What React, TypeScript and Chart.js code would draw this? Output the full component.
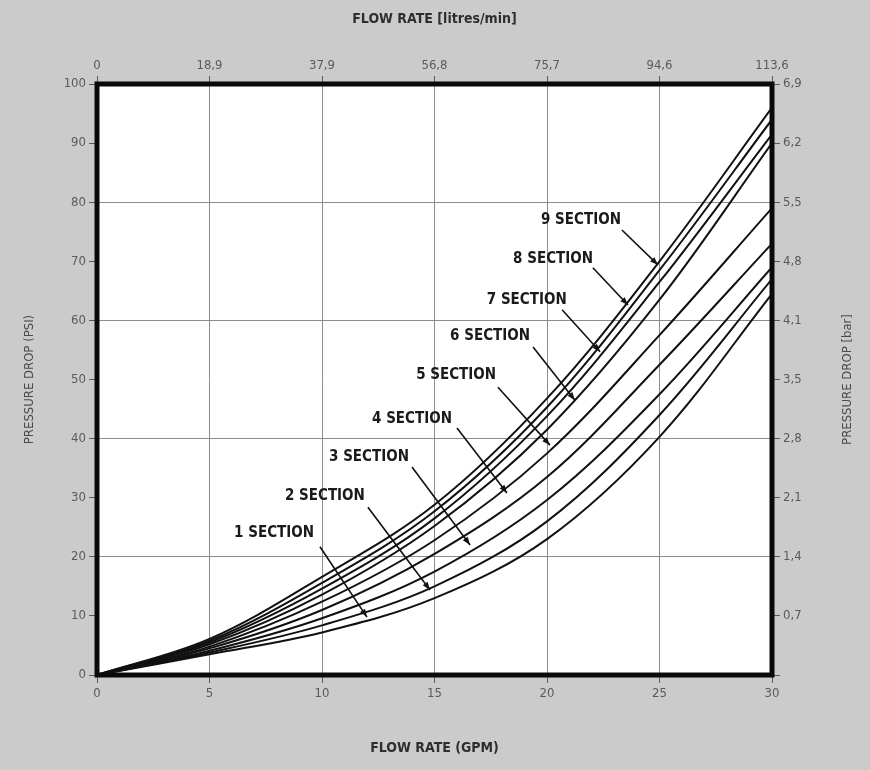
import React, { useEffect, useRef } from "react";
import { Chart, registerables } from "chart.js";

Chart.register(...registerables);

// Flow rate (GPM) sample points
const gpm = [0, 5, 10, 15, 20, 25, 30];

// Pressure drop (PSI) for each valve section count
const sec1 = [0, 3.5, 7.2, 13, 23, 40.3, 64.5];
const sec2 = [0, 3.8, 8.4, 15, 26, 44, 67];
const sec3 = [0, 4.1, 9.6, 17.5, 29.6, 47.5, 69];
const sec4 = [0, 4.5, 11, 20.5, 33.5, 52.5, 73];
const sec5 = [0, 4.8, 12.4, 22.8, 37.5, 57.5, 79];
const sec6 = [0, 5.2, 13.6, 25.2, 41.5, 63.5, 90];
const sec7 = [0, 5.5, 14.6, 26.5, 43.8, 66.5, 91.5];
const sec8 = [0, 5.8, 15.6, 27.7, 45.3, 68.5, 94];
const sec9 = [0, 6.1, 16.6, 28.8, 46.8, 70, 96];

const sectionSeries = [sec1, sec2, sec3, sec4, sec5, sec6, sec7, sec8, sec9];
const sectionNames = [
  "1 SECTION", "2 SECTION", "3 SECTION", "4 SECTION", "5 SECTION",
  "6 SECTION", "7 SECTION", "8 SECTION", "9 SECTION",
];

// Label anchors and leader lines, in data units (GPM, PSI)
const labelX = [7.87, 10.13, 12.09, 14.0, 15.96, 17.47, 19.1, 20.27, 21.51];
const labelY = [24.0, 30.3, 36.9, 43.3, 50.8, 57.4, 63.5, 70.4, 77.0];
const leaderStartX = [9.91, 12.04, 14.0, 16.0, 17.82, 19.38, 20.67, 22.04, 23.33];
const leaderStartY = [21.7, 28.4, 35.2, 41.8, 48.7, 55.5, 61.8, 68.9, 75.3];
const leaderEndX = [12.0, 14.8, 16.58, 18.22, 20.13, 21.24, 22.36, 23.6, 24.93];
const leaderEndY = [9.8, 14.4, 22.0, 30.8, 38.9, 46.5, 54.7, 62.6, 69.4];

// Secondary axis tick labels
const litresTickLabels = ["0", "18,9", "37,9", "56,8", "75,7", "94,6", "113,6"];
const barTickLabels = ["", "0,7", "1,4", "2,1", "2,8", "3,5", "4,1", "4,8", "5,5", "6,2", "6,9"];

const FONT = "'Liberation Sans Narrow', 'DejaVu Sans Condensed', 'Roboto', sans-serif";
const BG = "#cbcbcb";
const TICK_COLOR = "#5a5a5a";
const GRID_COLOR = "#8c8c8c";

const decorPlugin = {
  id: "decor",
  beforeDraw(chart: any) {
    const { ctx, chartArea: a, width, height } = chart;
    ctx.save();
    ctx.fillStyle = BG;
    ctx.fillRect(0, 0, width, height);
    ctx.fillStyle = "#ffffff";
    ctx.fillRect(a.left, a.top, a.right - a.left, a.bottom - a.top);
    ctx.restore();
  },
  afterDatasetsDraw(chart: any) {
    const { ctx, chartArea: a, width } = chart;
    const xs = chart.scales.x;
    const ys = chart.scales.y;
    ctx.save();
    ctx.strokeStyle = "#111";
    ctx.fillStyle = "#111";
    ctx.lineWidth = 1.6;
    for (let i = 0; i < sectionNames.length; i++) {
      const x0 = xs.getPixelForValue(leaderStartX[i]);
      const y0 = ys.getPixelForValue(leaderStartY[i]);
      const x1 = xs.getPixelForValue(leaderEndX[i]);
      const y1 = ys.getPixelForValue(leaderEndY[i]);
      ctx.beginPath();
      ctx.moveTo(x0, y0);
      ctx.lineTo(x1, y1);
      ctx.stroke();
      const ang = Math.atan2(y1 - y0, x1 - x0);
      const L = 8, W = 3;
      ctx.beginPath();
      ctx.moveTo(x1, y1);
      ctx.lineTo(x1 - L * Math.cos(ang) + W * Math.sin(ang), y1 - L * Math.sin(ang) - W * Math.cos(ang));
      ctx.lineTo(x1 - L * Math.cos(ang) - W * Math.sin(ang), y1 - L * Math.sin(ang) + W * Math.cos(ang));
      ctx.closePath();
      ctx.fill();
      ctx.font = `bold 15px ${FONT}`;
      ctx.fillStyle = "#1a1a1a";
      ctx.textAlign = "center";
      ctx.textBaseline = "middle";
      ctx.fillText(sectionNames[i], xs.getPixelForValue(labelX[i]), ys.getPixelForValue(labelY[i]));
      ctx.fillStyle = "#111";
    }
    ctx.strokeStyle = "#0a0a0a";
    ctx.lineWidth = 5;
    ctx.strokeRect(a.left, a.top, a.right - a.left, a.bottom - a.top);
    ctx.fillStyle = "#2e2e2e";
    ctx.textAlign = "center";
    ctx.textBaseline = "middle";
    ctx.font = `bold 14px ${FONT}`;
    ctx.fillText("FLOW RATE [litres/min]", (a.left + a.right) / 2, 19);
    ctx.fillText("FLOW RATE (GPM)", (a.left + a.right) / 2, 748);
    ctx.font = `13px ${FONT}`;
    ctx.fillStyle = "#4a4a4a";
    const midY = (a.top + a.bottom) / 2;
    ctx.save();
    ctx.translate(30, midY);
    ctx.rotate(-Math.PI / 2);
    ctx.fillText("PRESSURE DROP (PSI)", 0, 0);
    ctx.restore();
    ctx.save();
    ctx.translate(width - 22, midY);
    ctx.rotate(-Math.PI / 2);
    ctx.fillText("PRESSURE DROP [bar]", 0, 0);
    ctx.restore();
    ctx.restore();
  },
};

export default function App() {
  const ref = useRef<HTMLCanvasElement>(null);
  useEffect(() => {
    const tickFont = { family: FONT, size: 13 };
    const chart = new Chart(ref.current as HTMLCanvasElement, {
      type: "line",
      data: {
        datasets: sectionSeries.map((s, i) => ({
          label: sectionNames[i],
          data: gpm.map((x, j) => ({ x, y: s[j] })),
          borderColor: "#111",
          borderWidth: 2,
          pointRadius: 0,
          fill: false,
          tension: 0.35,
        })),
      },
      options: {
        animation: false,
        responsive: false,
        devicePixelRatio: 1,
        layout: { padding: 0 },
        plugins: { legend: { display: false }, tooltip: { enabled: false } },
        scales: {
          x: {
            type: "linear",
            position: "bottom",
            min: 0,
            max: 30,
            ticks: { stepSize: 5, color: TICK_COLOR, font: tickFont, padding: 3 },
            grid: {
              color: (c: any) => (c.tick && c.tick.value > 0 && c.tick.value < 30 ? GRID_COLOR : "transparent"),
              tickColor: TICK_COLOR,
              tickLength: 8,
              lineWidth: 1,
            },
            border: { display: false },
            afterFit: (s: any) => { s.height = 95; },
          },
          x2: {
            type: "linear",
            position: "top",
            min: 0,
            max: 30,
            ticks: {
              stepSize: 5,
              color: TICK_COLOR,
              font: tickFont,
              padding: 3,
              callback: (_v: any, i: number) => litresTickLabels[i],
            },
            grid: { drawOnChartArea: false, tickColor: TICK_COLOR, tickLength: 8 },
            border: { display: false },
            afterFit: (s: any) => { s.height = 84; },
          },
          y: {
            type: "linear",
            position: "left",
            min: 0,
            max: 100,
            ticks: { stepSize: 10, color: TICK_COLOR, font: tickFont, padding: 3 },
            grid: {
              color: (c: any) =>
                c.tick && c.tick.value % 20 === 0 && c.tick.value > 0 && c.tick.value < 100 ? GRID_COLOR : "transparent",
              tickColor: TICK_COLOR,
              tickLength: 8,
              lineWidth: 1,
            },
            border: { display: false },
            afterFit: (s: any) => { s.width = 97; },
          },
          y2: {
            type: "linear",
            position: "right",
            min: 0,
            max: 100,
            ticks: {
              stepSize: 10,
              color: TICK_COLOR,
              font: tickFont,
              padding: 3,
              callback: (_v: any, i: number) => barTickLabels[i],
            },
            grid: { drawOnChartArea: false, tickColor: TICK_COLOR, tickLength: 8 },
            border: { display: false },
            afterFit: (s: any) => { s.width = 98; },
          },
        },
      },
      plugins: [decorPlugin],
    } as any);
    return () => chart.destroy();
  }, []);
  return (
    <div style={{ position: "fixed", left: 0, top: 0, width: 870, height: 770, background: BG }}>
      <canvas ref={ref} width={870} height={770} style={{ display: "block", width: 870, height: 770 }} />
    </div>
  );
}
